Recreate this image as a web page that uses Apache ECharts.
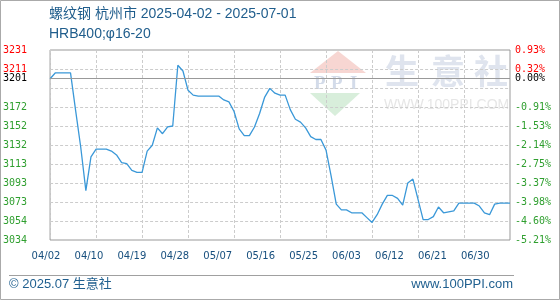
<!DOCTYPE html>
<html>
<head>
<meta charset="utf-8">
<script src="https://cdn.jsdelivr.net/npm/echarts@6/dist/echarts.min.js"></script>
<style>
html,body{margin:0;padding:0;background:#fff;}
#chart{width:560px;height:300px;}
</style>
</head>
<body>
<div id="chart"></div>
<script>
const titleLine1 = '螺纹钢 杭州市 2025-04-02 - 2025-07-01';
const titleLine2 = 'HRB400;φ16-20';
const footerLeft = '© 2025.07 生意社';
const footerRight = 'www.100PPI.com';
const startDate = '2025-04-02';
const prices = [
  3201,3207,3207,3207,3207,3168,3130,3085,3120,3128,
  3128,3128,3126,3122,3114,3113,3106,3104,3104,3126,
  3132,3150,3144,3151,3152,3215,3209,3189,3184,3183,
  3183,3183,3183,3183,3179,3177,3167,3149,3142,3142,
  3151,3165,3182,3191,3186,3184,3184,3169,3159,3156,
  3150,3141,3138,3138,3127,3100,3071,3065,3065,3062,
  3062,3062,3057,3052,3060,3071,3080,3080,3077,3070,
  3093,3097,3076,3055,3055,3058,3068,3062,3063,3064,
  3072,3072,3072,3072,3069,3062,3060,3071,3072,3072,
  3072
];
const xTickLabels = ['04/02','04/10','04/19','04/28','05/07','05/16','05/25','06/03','06/12','06/21','06/30'];
const leftTickLabels = ['3034','3054','3073','3093','3113','3132','3152','3172','','3211','3231'];
const rightTickLabels = ['-5.21%','-4.60%','-3.98%','-3.37%','-2.75%','-2.14%','-1.53%','-0.91%','','0.32%','0.93%'];
const baseValue = 3201;
const baseLabelLeft = '3201';
const baseLabelRight = '0.00%';
const yMin = 3033.8, yInterval = 19.7, yMax = 3230.8;

// daily category dates
const dates = [];
(function(){
  const d0 = new Date(startDate + 'T00:00:00Z');
  for (let i = 0; i < prices.length; i++) {
    const d = new Date(d0.getTime() + i * 86400000);
    dates.push(String(d.getUTCMonth()+1).padStart(2,'0') + '/' + String(d.getUTCDate()).padStart(2,'0'));
  }
})();

const RED = '#ff0000', GREEN = '#2f9f2f', BLACK = '#000000';
function tickIndex(v){ return Math.round((v - yMin) / yInterval); }
function tickColor(v){
  const i = tickIndex(v);
  if (i >= 9) return RED;
  return GREEN;
}
const monoFont = '"DejaVu Sans Mono", "Liberation Mono", monospace';

const chart = echarts.init(document.getElementById('chart'), null, {renderer:'canvas'});
chart.setOption({
  animation: false,
  backgroundColor: '#fff',
  title: [
    {text: titleLine1, left: 49, top: 7, padding: 0,
     textStyle:{fontSize:14, fontWeight:'normal', color:'#1f5d8c', fontFamily:'"Liberation Sans","Noto Sans CJK SC",sans-serif'}},
    {text: titleLine2, left: 49, top: 27, padding: 0,
     textStyle:{fontSize:14, fontWeight:'normal', color:'#1f5d8c', fontFamily:'"Liberation Sans","Noto Sans CJK SC",sans-serif'}},
    {text: footerLeft, left: 9, top: 278, padding: 0,
     textStyle:{fontSize:13, fontWeight:'normal', color:'#1f5f8f', fontFamily:'"Liberation Sans","Noto Sans CJK SC",sans-serif'}},
    {text: footerRight, right: 47, top: 278, padding: 0,
     textStyle:{fontSize:13, fontWeight:'normal', color:'#1f5f8f', fontFamily:'"Liberation Sans",sans-serif'}}
  ],
  graphic: [
    {type:'rect', silent:true, z:-10, shape:{x:0.5,y:0.5,width:559,height:299}, style:{fill:null, stroke:'#aaa', lineWidth:1}},
    {type:'line', silent:true, shape:{x1:9,y1:275.5,x2:514,y2:275.5}, style:{stroke:'#a0a0a0', lineWidth:1}},
    // watermark logo
    {type:'polygon', silent:true, z:-5, shape:{points:[[338,51],[310,73],[366,73]]}, style:{fill:'#f7d6d2'}},
    {type:'polygon', silent:true, z:-5, shape:{points:[[310,93],[360,93],[335,116]]}, style:{fill:'#d8eedb'}},
    {type:'text', silent:true, z:-5, style:{text:'P', x:314, y:75, fill:'#d3dbe9', font:'bold 19px "Liberation Serif", serif'}},
    {type:'text', silent:true, z:-5, style:{text:'P', x:331, y:75, fill:'#d3dbe9', font:'bold 19px "Liberation Serif", serif'}},
    {type:'text', silent:true, z:-5, style:{text:'I', x:350, y:75, fill:'#d3dbe9', font:'bold 19px "Liberation Serif", serif'}},
    {type:'text', silent:true, z:-5, style:{text:'生', x:385, y:54, fill:'#dfe4ee', font:'bold 34px "Noto Sans CJK SC", sans-serif'}},
    {type:'text', silent:true, z:-5, style:{text:'意', x:431, y:54, fill:'#dfe4ee', font:'bold 34px "Noto Sans CJK SC", sans-serif'}},
    {type:'text', silent:true, z:-5, style:{text:'社', x:474, y:54, fill:'#dfe4ee', font:'bold 34px "Noto Sans CJK SC", sans-serif'}},
    {type:'text', silent:true, z:-5, style:{text:'WWW.100PPI.COM', x:384, y:98, fill:'#e6e6e6', font:'14px "Liberation Sans", sans-serif'}}
  ],
  grid: [
    {left:50, right:50, top:50, bottom:60, show:true, borderColor:'#999', borderWidth:1, backgroundColor:'transparent'},
    {left:46, right:84.7, top:239, height:1, show:false}
  ],
  xAxis: [
    {type:'category', gridIndex:0, data:dates, boundaryGap:false,
     axisLine:{show:false}, axisTick:{show:false}, axisLabel:{show:false},
     splitLine:{show:true, interval:8, lineStyle:{color:'#cccccc', type:[3,2], width:1}}},
    {type:'category', gridIndex:1, data:xTickLabels, boundaryGap:false,
     axisLine:{show:false}, axisTick:{show:false}, splitLine:{show:false},
     axisLabel:{show:true, interval:0, margin:11, fontSize:10, color:'#174f7e', fontFamily:'"DejaVu Sans", sans-serif'}}
  ],
  yAxis: [
    {type:'value', gridIndex:0, position:'left', min:yMin, max:yMax, interval:yInterval,
     axisLine:{show:false}, axisTick:{show:false},
     splitLine:{show:true, lineStyle:{color:'#cccccc', type:[3,2], width:1}},
     axisLabel:{show:true, margin:23, fontSize:10, fontFamily:monoFont,
       formatter:function(v){ const i = tickIndex(v); return leftTickLabels[i] || ''; },
       color:function(v){ return tickColor(v); }}},
    {type:'value', gridIndex:0, position:'right', min:yMin, max:yMax, interval:yInterval,
     axisLine:{show:false}, axisTick:{show:false}, splitLine:{show:false},
     axisLabel:{show:true, margin:5, fontSize:10, fontFamily:monoFont,
       formatter:function(v){ const i = tickIndex(v); return rightTickLabels[i] || ''; },
       color:function(v){ return tickColor(v); }}},
    {type:'value', gridIndex:1, show:false}
  ],
  series: [{
    type:'line', xAxisIndex:0, yAxisIndex:0, data:prices,
    showSymbol:false, symbol:'none', smooth:false,
    lineStyle:{color:'#3a98d8', width:1.3},
    markLine:{
      silent:true, symbol:'none', animation:false,
      lineStyle:{color:'#999', type:'solid', width:1},
      data:[
        {yAxis:baseValue, label:{show:true, position:'start', distance:23, formatter:baseLabelLeft, color:BLACK, fontSize:10, fontFamily:monoFont}},
        {yAxis:baseValue, label:{show:true, position:'end', distance:5, formatter:baseLabelRight, color:BLACK, fontSize:10, fontFamily:monoFont}}
      ]
    }
  }]
});
</script>
</body>
</html>
